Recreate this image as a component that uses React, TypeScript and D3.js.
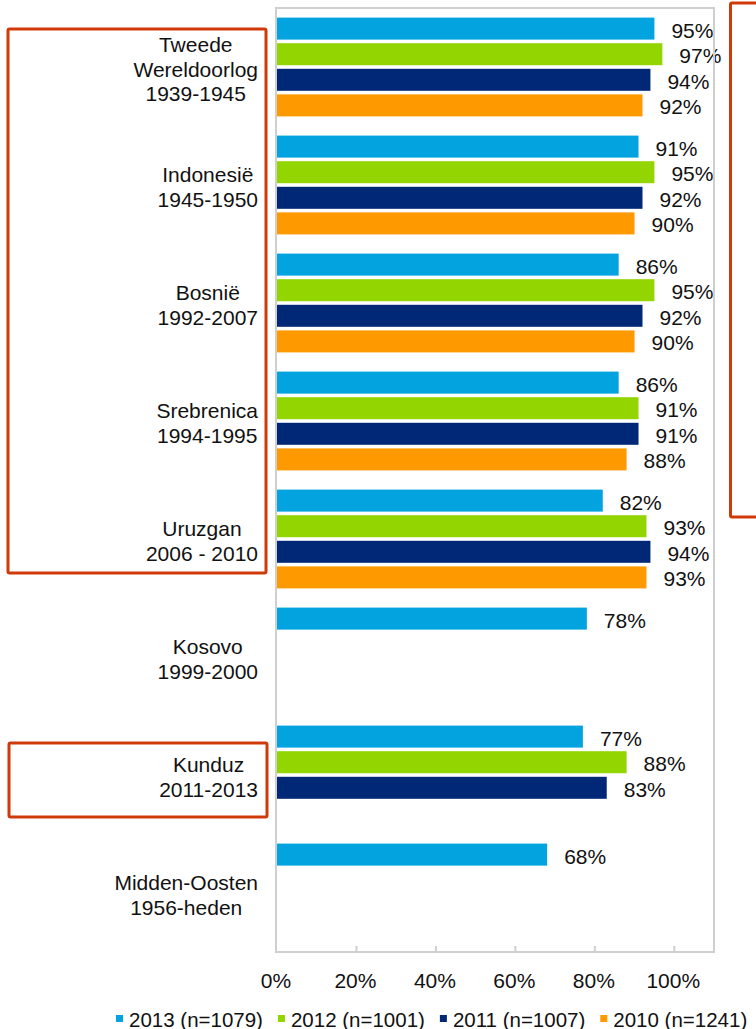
import React, { useEffect, useRef } from "react";
import * as d3 from "d3";

const categories: string[][] = [
  ["Tweede", "Wereldoorlog", "1939-1945"],
  ["Indonesië", "1945-1950"],
  ["Bosnië", "1992-2007"],
  ["Srebrenica", "1994-1995"],
  ["Uruzgan", "2006 - 2010"],
  ["Kosovo", "1999-2000"],
  ["Kunduz", "2011-2013"],
  ["Midden-Oosten", "1956-heden"],
];

const seriesNames = ["2013 (n=1079)", "2012 (n=1001)", "2011 (n=1007)", "2010 (n=1241)"];
const seriesColors = ["#02A3DF", "#93D500", "#002877", "#FF9900"];

const values2013: (number | null)[] = [95, 91, 86, 86, 82, 78, 77, 68];
const values2012: (number | null)[] = [97, 95, 95, 91, 93, null, 88, null];
const values2011: (number | null)[] = [94, 92, 92, 91, 94, null, 83, null];
const values2010: (number | null)[] = [92, 90, 90, 88, 93, null, null, null];

const seriesValues = [values2013, values2012, values2011, values2010];

const xTicks = [0, 20, 40, 60, 80, 100];

const FONT = "'Liberation Sans', Arial, Helvetica, sans-serif";

export default function App() {
  const ref = useRef<SVGSVGElement | null>(null);

  useEffect(() => {
    const svg = d3.select(ref.current);
    svg.selectAll("*").remove();

    const left = 276, right = 714, top = 8, bottom = 952;
    const x = d3.scaleLinear().domain([0, 110]).range([left + 1, right]);
    const y0 = d3
      .scaleBand<number>()
      .domain(categories.map((_, i) => i))
      .range([top, bottom])
      .padding(0);
    const y1 = d3
      .scaleBand<number>()
      .domain(seriesNames.map((_, i) => i))
      .range([0, y0.bandwidth()])
      .paddingInner(0.14)
      .paddingOuter(0.375);

    // bars
    const g = svg.append("g");
    categories.forEach((_, ci) => {
      seriesValues.forEach((vals, si) => {
        const v = vals[ci];
        if (v == null) return;
        const yy = (y0(ci) as number) + (y1(si) as number);
        g.append("rect")
          .attr("x", x(0))
          .attr("y", yy)
          .attr("width", x(v) - x(0))
          .attr("height", y1.bandwidth())
          .attr("fill", seriesColors[si]);
        g.append("text")
          .attr("x", x(v) + 17)
          .attr("y", yy + y1.bandwidth() / 2 + 1.5)
          .attr("dominant-baseline", "central")
          .attr("font-family", FONT)
          .attr("font-size", 21)
          .attr("fill", "#111")
          .text(`${v}%`);
      });
    });

    // frame
    svg
      .append("rect")
      .attr("x", left)
      .attr("y", top)
      .attr("width", right - left)
      .attr("height", bottom - top)
      .attr("fill", "none")
      .attr("stroke", "#CFCFCF")
      .attr("stroke-width", 2);

    // ticks
    xTicks.forEach((t) => {
      if (t > 0) {
        svg
          .append("line")
          .attr("x1", x(t))
          .attr("x2", x(t))
          .attr("y1", bottom - 6)
          .attr("y2", bottom)
          .attr("stroke", "#CFCFCF")
          .attr("stroke-width", 2);
      }
      svg
        .append("text")
        .attr("x", x(t) - 1)
        .attr("y", 980)
        .attr("text-anchor", "middle")
        .attr("dominant-baseline", "central")
        .attr("font-family", FONT)
        .attr("font-size", 21)
        .attr("fill", "#111")
        .text(`${t}%`);
    });

    // category labels
    const lineH = 24.5;
    const labelRight = 258;
    categories.forEach((lines, ci) => {
      const cy = (y0(ci) as number) + y0.bandwidth() / 2 + 2;
      const tg = svg.append("g");
      const texts = lines.map((ln, li) =>
        tg
          .append("text")
          .attr("y", cy + (li - (lines.length - 1) / 2) * lineH)
          .attr("dominant-baseline", "central")
          .attr("text-anchor", "middle")
          .attr("font-family", FONT)
          .attr("font-size", 21)
          .attr("fill", "#111")
          .text(ln)
      );
      const maxW = d3.max(texts, (t) => (t.node() as SVGTextElement).getComputedTextLength()) || 0;
      texts.forEach((t) => t.attr("x", labelRight - maxW / 2));
    });

    // legend
    let lx = 116;
    seriesNames.forEach((name, si) => {
      svg
        .append("rect")
        .attr("x", lx)
        .attr("y", 1015)
        .attr("width", 7)
        .attr("height", 7)
        .attr("fill", seriesColors[si]);
      const t = svg
        .append("text")
        .attr("x", lx + 13)
        .attr("y", 1019)
        .attr("dominant-baseline", "central")
        .attr("font-family", FONT)
        .attr("font-size", 20.5)
        .attr("fill", "#111")
        .text(name);
      const w = (t.node() as SVGTextElement).getComputedTextLength();
      lx += 13 + w + 15;
    });

    // red annotation boxes
    const boxes = [
      { x: 8, y: 29, w: 258, h: 544 },
      { x: 730.5, y: 3, w: 60, h: 514 },
      { x: 9, y: 743, w: 258, h: 74 },
    ];
    boxes.forEach((b) => {
      svg
        .append("rect")
        .attr("x", b.x)
        .attr("y", b.y)
        .attr("width", b.w)
        .attr("height", b.h)
        .attr("rx", 1.5)
        .attr("fill", "none")
        .attr("stroke", "#CF3A08")
        .attr("stroke-width", 3);
    });
  }, []);

  return (
    <svg
      ref={ref}
      width={756}
      height={1029}
      style={{ position: "absolute", left: 0, top: 0, background: "#fff" }}
    />
  );
}
